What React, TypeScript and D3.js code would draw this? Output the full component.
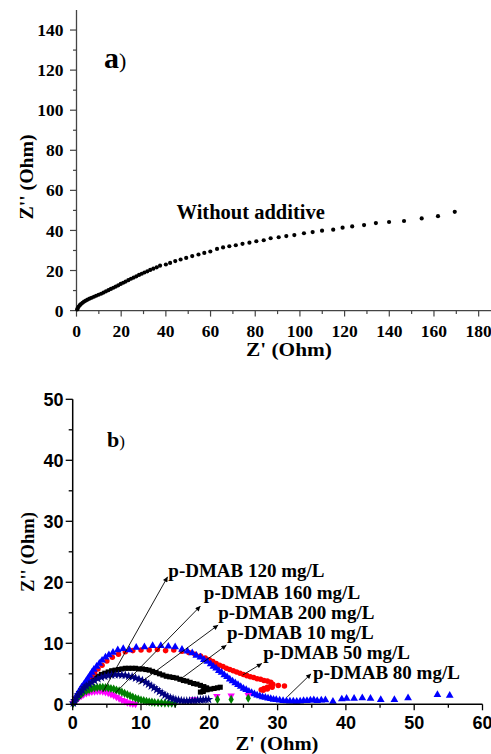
import React from 'react'
import * as d3 from 'd3'

// a) Nyquist plot without additive, [Z', Z''] in Ohm
const blankZ: [number, number][] = [
  [0.3, 0.6], [0.6, 1.3], [1.0, 2.0], [1.5, 2.7], [2.0, 3.3], [2.7, 3.9], [3.4, 4.5], [4.2, 5.0],
  [5.0, 5.5], [5.9, 6.0], [6.8, 6.4], [7.8, 6.9], [8.8, 7.4], [9.9, 7.9], [11.0, 8.4], [12.1, 9.0],
  [13.2, 9.6], [14.3, 10.2], [15.4, 10.8], [16.5, 11.4], [17.6, 12.0], [18.7, 12.6], [19.8, 13.3],
  [20.9, 13.9], [22.0, 14.5], [23.2, 15.2], [24.4, 15.9], [25.6, 16.5], [26.8, 17.1], [28.0, 17.8],
  [29.2, 18.4], [30.4, 19.0], [31.7, 19.6], [33.0, 20.3], [34.4, 20.9], [35.9, 21.6], [37.4, 22.4],
  [40.0, 23.0], [41.9, 23.8], [44.2, 24.7], [46.6, 25.5], [49.1, 26.3], [51.8, 27.2], [54.6, 28.0],
  [57.2, 28.8], [59.9, 29.5], [62.9, 30.8], [65.6, 31.5], [68.4, 32.1], [71.3, 32.6], [74.3, 33.3],
  [77.4, 33.9], [80.5, 34.6], [83.8, 35.1], [86.9, 36.1], [90.5, 36.6], [93.9, 37.2], [97.5, 37.7],
  [101.8, 38.6], [105.7, 39.2], [109.9, 39.9], [114.9, 40.4], [119.1, 41.4], [123.4, 42.0],
  [128.7, 42.7], [134.0, 43.7], [139.9, 44.2], [146.6, 44.7], [154.5, 46.0], [161.8, 47.1], [169.3, 49.3],
]

// b) with p-DMAB
const dmab10: [number, number][] = [
  [0.1, 0.2], [0.3, 0.6], [0.5, 1.0], [0.7, 1.4], [0.9, 1.8], [1.2, 2.2], [1.5, 2.6], [1.8, 3.0],
  [2.1, 3.3], [2.5, 3.7], [2.9, 4.0], [3.3, 4.3], [3.7, 4.6], [4.2, 4.9], [4.7, 5.1], [5.2, 5.3],
  [5.7, 5.5], [6.2, 5.6], [6.7, 5.7], [7.2, 5.8], [7.7, 5.9], [8.2, 5.9], [8.7, 5.9], [9.2, 5.9],
  [9.7, 5.8], [10.2, 5.8], [10.7, 5.7], [11.2, 5.6], [11.7, 5.4], [12.2, 5.2], [12.7, 5.0], [13.2, 4.8],
  [13.7, 4.6], [14.2, 4.5], [14.7, 4.4], [15.2, 4.3], [15.7, 4.1], [16.2, 3.9], [16.7, 3.8], [17.2, 3.6],
  [17.7, 3.4], [18.2, 3.3], [18.7, 3.1], [19.2, 2.9], [19.6, 2.7], [19.5, 2.4], [19.1, 2.1], [18.7, 2.0],
  [19.1, 2.2], [19.7, 2.4], [20.2, 2.5], [20.7, 2.6], [21.2, 2.7], [21.6, 2.8],
]
const dmab50: [number, number][] = [
  [0.1, 0.2], [0.3, 0.6], [0.5, 1.0], [0.8, 1.5], [1.1, 2.0], [1.4, 2.6], [1.7, 3.1], [2.0, 3.6],
  [2.4, 4.1], [2.8, 4.7], [3.2, 5.2], [3.7, 5.8], [4.3, 6.4], [5.0, 7.1], [5.8, 7.7], [6.7, 8.2],
  [7.7, 8.6], [8.8, 8.8], [10.0, 8.9], [11.2, 8.9], [12.4, 9.0], [13.6, 8.8], [14.8, 8.9], [16.0, 8.7],
  [17.0, 8.5], [17.9, 8.2], [18.7, 7.9], [19.4, 7.6], [20.0, 7.3], [20.5, 7.0], [21.0, 6.7], [21.5, 6.4],
  [22.0, 6.2], [22.5, 5.9], [23.0, 5.7], [23.5, 5.5], [24.0, 5.3], [24.5, 5.1], [25.0, 4.9], [25.5, 4.7],
  [26.0, 4.5], [26.5, 4.4], [27.0, 4.2], [27.5, 4.1], [28.0, 3.9], [28.5, 3.8], [29.0, 3.6], [29.3, 3.3],
  [29.0, 3.0], [28.5, 2.8], [28.0, 2.6], [27.6, 2.4], [27.9, 2.3], [28.5, 2.5], [29.2, 2.8], [30.1, 3.1],
  [31.0, 3.0],
]
const dmab80: [number, number][] = [
  [0.1, 0.3], [0.3, 0.8], [0.5, 1.2], [0.7, 1.6], [0.9, 2.0], [1.1, 2.4], [1.3, 2.8], [1.6, 3.2],
  [1.9, 3.7], [2.2, 4.2], [2.5, 4.7], [2.8, 5.2], [3.1, 5.7], [3.5, 6.2], [3.9, 6.7], [4.3, 7.2],
  [4.8, 7.7], [5.3, 8.1], [5.9, 8.5], [6.6, 8.9], [7.4, 9.1], [8.3, 8.9], [9.3, 9.3], [10.5, 9.4],
  [11.7, 9.6], [12.9, 9.6], [14.0, 9.5], [15.0, 9.4], [16.0, 9.0], [16.8, 8.7], [17.5, 8.4], [18.1, 8.0],
  [18.7, 7.7], [19.2, 7.3], [19.7, 7.0], [20.2, 6.6], [20.6, 6.2], [21.0, 5.9], [21.4, 5.5], [21.8, 5.2],
  [22.2, 4.8], [22.6, 4.5], [23.0, 4.1], [23.4, 3.8], [23.8, 3.5], [24.2, 3.2], [24.6, 2.9], [25.0, 2.6],
  [25.4, 2.4], [25.8, 2.1], [26.2, 1.9], [26.6, 1.7], [27.0, 1.5], [27.4, 1.35], [27.8, 1.2], [28.2, 1.1],
  [28.6, 1.0], [29.0, 0.9], [29.4, 0.8], [29.8, 0.75], [30.3, 0.68], [30.8, 0.6], [31.3, 0.55], [31.8, 0.5],
  [32.3, 0.5], [32.8, 0.45], [33.3, 0.5], [33.8, 0.6], [34.3, 0.6], [34.8, 0.65], [35.3, 0.7], [35.8, 0.6],
  [36.4, 0.65], [37.0, 0.7], [38.1, 0.45], [39.4, 0.85], [40.1, 0.95], [41.2, 0.95], [42.4, 1.05],
  [43.6, 0.95], [45.1, 0.75], [47.1, 0.75], [49.1, 1.05], [53.4, 1.55], [55.2, 1.45],
]
const dmab120: [number, number][] = [
  [0.1, 0.2], [0.3, 0.4], [0.5, 0.7], [0.7, 0.9], [1.0, 1.2], [1.3, 1.4], [1.6, 1.6], [2.0, 1.8],
  [2.4, 1.95], [2.8, 2.05], [3.2, 2.1], [3.6, 2.15], [4.0, 2.15], [4.4, 2.1], [4.8, 2.0], [5.2, 1.85],
  [5.6, 1.65], [6.0, 1.45], [6.4, 1.2], [6.8, 0.95], [7.2, 0.7], [7.6, 0.5], [8.0, 0.32], [8.4, 0.2],
  [8.8, 0.1], [9.2, 0.05], [17.7, 0.8], [21.1, 1.35], [23.2, 1.4], [25.7, 1.5],
]
const dmab160: [number, number][] = [
  [0.1, 0.2], [0.3, 0.5], [0.5, 0.8], [0.7, 1.1], [1.0, 1.4], [1.3, 1.7], [1.6, 2.0], [2.0, 2.2],
  [2.4, 2.4], [2.8, 2.6], [3.2, 2.7], [3.6, 2.75], [4.0, 2.8], [4.4, 2.8], [4.8, 2.75], [5.2, 2.7],
  [5.6, 2.6], [6.0, 2.5], [6.4, 2.35], [6.8, 2.2], [7.2, 2.0], [7.6, 1.8], [8.0, 1.6], [8.4, 1.4],
  [8.8, 1.2], [9.2, 1.0], [9.6, 0.85], [10.0, 0.7], [10.4, 0.6], [10.8, 0.5], [11.2, 0.42], [11.6, 0.36],
  [12.0, 0.3], [12.5, 0.26], [13.0, 0.23], [13.5, 0.2], [14.0, 0.2], [14.5, 0.18], [15.0, 0.17],
  [21.2, 0.8], [23.2, 0.8], [25.7, 1.0],
]
const dmab200: [number, number][] = [
  [0.1, 0.2], [0.3, 0.6], [0.5, 1.0], [0.8, 1.5], [1.1, 1.9], [1.4, 2.3], [1.7, 2.7], [2.0, 3.0],
  [2.4, 3.3], [2.8, 3.6], [3.2, 3.9], [3.7, 4.2], [4.2, 4.4], [4.7, 4.6], [5.2, 4.7], [5.7, 4.8],
  [6.2, 4.85], [6.7, 4.85], [7.2, 4.8], [7.7, 4.75], [8.2, 4.6], [8.7, 4.5], [9.2, 4.3], [9.7, 4.1],
  [10.2, 3.9], [10.7, 3.6], [11.1, 3.3], [11.5, 3.0], [11.9, 2.7], [12.3, 2.4], [12.7, 2.1], [13.1, 1.8],
  [13.5, 1.5], [13.9, 1.25], [14.3, 1.05], [14.7, 0.9], [15.1, 0.75], [15.5, 0.65], [15.9, 0.6],
  [16.3, 0.55], [16.7, 0.55], [17.1, 0.55], [17.5, 0.6], [17.9, 0.6], [18.3, 0.65], [18.7, 0.7],
  [19.1, 0.75], [19.5, 0.8], [19.9, 0.8],
]

// label text, arrow tail (on data), arrow head and text start, all in Z' / Z'' units
const labels = [
  { text: 'p-DMAB 120 mg/L', tail: [4.4, 2.0], head: [13.9, 20.9], at: [14.0, 20.9] },
  { text: 'p-DMAB 160 mg/L', tail: [6.2, 1.8], head: [18.7, 16.1], at: [19.2, 17.2] },
  { text: 'p-DMAB 200 mg/L', tail: [9.6, 3.3], head: [21.3, 13.0], at: [21.3, 14.0] },
  { text: 'p-DMAB 10 mg/L', tail: [15.5, 3.9], head: [22.5, 9.7], at: [22.6, 10.7] },
  { text: 'p-DMAB 50 mg/L', tail: [24.9, 4.8], head: [27.7, 6.7], at: [27.9, 7.4] },
  { text: 'p-DMAB 80 mg/L', tail: [31.4, 1.2], head: [34.9, 5.0], at: [35.2, 4.1] },
]

const ticksAX = [0, 20, 40, 60, 80, 100, 120, 140, 160, 180]
const ticksAY = [0, 20, 40, 60, 80, 100, 120, 140]
const ticksBX = [0, 10, 20, 30, 40, 50, 60]
const ticksBY = [0, 10, 20, 30, 40, 50]

const serif = '"Liberation Serif", "Times New Roman", serif'
const sans = '"Liberation Sans", Arial, sans-serif'

const series = [
  { data: dmab10, color: '#000000', type: d3.symbolSquare, size: 26, rot: 0 },
  { data: dmab50, color: '#ff0000', type: d3.symbolCircle, size: 24, rot: 0 },
  { data: dmab80, color: '#0000ff', type: d3.symbolTriangle, size: 26, rot: 0 },
  { data: dmab120, color: '#ff00ff', type: d3.symbolTriangle, size: 24, rot: 180 },
  { data: dmab160, color: '#008000', type: d3.symbolDiamond, size: 24, rot: 0 },
  { data: dmab200, color: '#000080', type: d3.symbolStar, size: 28, rot: 0 },
]

export default function App() {
  const xA = d3.scaleLinear().domain([0, 190]).range([76.5, 501])
  const yA = d3.scaleLinear().domain([0, 150]).range([310.6, 10])
  const xB = d3.scaleLinear().domain([0, 60]).range([72.7, 482.5])
  const yB = d3.scaleLinear().domain([0, 50]).range([704.3, 399.3])

  const axA = '#444'
  return (
    <svg width={491} height={754} style={{ position: 'absolute', left: 0, top: 0, background: '#fff' }}>
      <defs>
        <marker id="arr" viewBox="0 0 10 10" refX="10" refY="5" markerWidth="7" markerHeight="5"
          markerUnits="userSpaceOnUse" orient="auto">
          <path d="M0,0 L10,5 L0,10 z" fill="#000" />
        </marker>
      </defs>

      {/* ---- a) ---- */}
      <g>
        <line x1={xA(0)} x2={xA(190)} y1={yA(0)} y2={yA(0)} stroke={axA} strokeWidth={1.3} />
        <line x1={xA(0)} x2={xA(0)} y1={yA(0)} y2={yA(150)} stroke={axA} strokeWidth={1.3} />
        {ticksAX.map(t => (
          <g key={'ax' + t}>
            <line x1={xA(t)} x2={xA(t)} y1={yA(0)} y2={yA(0) + 6} stroke={axA} strokeWidth={1.2} />
            <text x={xA(t)} y={yA(0) + 20} dy="0.35em" textAnchor="middle" fontFamily={serif}
              fontWeight="bold" fontSize={17.5}>{t}</text>
          </g>
        ))}
        {d3.range(10, 190, 20).map(t => (
          <line key={'axm' + t} x1={xA(t)} x2={xA(t)} y1={yA(0)} y2={yA(0) + 3.5} stroke={axA} strokeWidth={1.2} />
        ))}
        {ticksAY.map(t => (
          <g key={'ay' + t}>
            <line x1={xA(0) - 6.5} x2={xA(0)} y1={yA(t)} y2={yA(t)} stroke={axA} strokeWidth={1.2} />
            <text x={63.5} y={yA(t)} dy="0.35em" textAnchor="end" fontFamily={serif}
              fontWeight="bold" fontSize={17.5}>{t}</text>
          </g>
        ))}
        {d3.range(10, 150, 20).map(t => (
          <line key={'aym' + t} x1={xA(0) - 3.5} x2={xA(0)} y1={yA(t)} y2={yA(t)} stroke={axA} strokeWidth={1.2} />
        ))}
        <text x={289} y={356} textAnchor="middle" fontFamily={serif} fontWeight="bold" fontSize={18}
          textLength={86} lengthAdjust="spacingAndGlyphs">Z' (Ohm)</text>
        <text transform="translate(33,177) rotate(-90)" textAnchor="middle" fontFamily={serif}
          fontWeight="bold" fontSize={18} textLength={85} lengthAdjust="spacingAndGlyphs">Z'' (Ohm)</text>
        <text x={104} y={68} fontFamily={serif}>
          <tspan fontWeight="bold" fontSize={30}>a</tspan>
          <tspan fontSize={22}>)</tspan>
        </text>
        <text x={176.5} y={219} fontFamily={serif} fontWeight="bold" fontSize={20.5}>Without additive</text>
        {blankZ.map((d, i) => (
          <circle key={'b' + i} cx={xA(d[0])} cy={yA(d[1])} r={2.1} fill="#000" />
        ))}
      </g>

      {/* ---- b) ---- */}
      <g>
        {series.map((s, si) => {
          const p = d3.symbol().type(s.type).size(s.size)() as string
          return (
            <g key={'s' + si}>
              {s.data.map((d, i) => (
                <path key={i} d={p} fill={s.color}
                  transform={`translate(${xB(d[0])},${yB(d[1])}) rotate(${s.rot})`} />
              ))}
            </g>
          )
        })}
        <line x1={xB(0)} x2={xB(60)} y1={yB(0)} y2={yB(0)} stroke="#000" strokeWidth={1.5} />
        <line x1={xB(0)} x2={xB(0)} y1={yB(0)} y2={yB(50)} stroke="#000" strokeWidth={1.5} />
        {ticksBX.map(t => (
          <g key={'bx' + t}>
            <line x1={xB(t)} x2={xB(t)} y1={yB(0)} y2={yB(0) + 6} stroke="#000" strokeWidth={1.3} />
            <text x={xB(t)} y={723} dy="0.35em" textAnchor="middle" fontFamily={sans}
              fontWeight="bold" fontSize={18}>{t}</text>
          </g>
        ))}
        {d3.range(5, 60, 10).map(t => (
          <line key={'bxm' + t} x1={xB(t)} x2={xB(t)} y1={yB(0)} y2={yB(0) + 3.5} stroke="#000" strokeWidth={1.3} />
        ))}
        {ticksBY.map(t => (
          <g key={'by' + t}>
            <line x1={xB(0) - 7} x2={xB(0)} y1={yB(t)} y2={yB(t)} stroke="#000" strokeWidth={1.3} />
            <text x={63.5} y={yB(t)} dy="0.35em" textAnchor="end" fontFamily={sans}
              fontWeight="bold" fontSize={18}>{t}</text>
          </g>
        ))}
        {d3.range(5, 50, 10).map(t => (
          <line key={'bym' + t} x1={xB(0) - 4} x2={xB(0)} y1={yB(t)} y2={yB(t)} stroke="#000" strokeWidth={1.3} />
        ))}
        <text x={277} y={750} textAnchor="middle" fontFamily={serif} fontWeight="bold" fontSize={18}
          textLength={83} lengthAdjust="spacingAndGlyphs">Z' (Ohm)</text>
        <text transform="translate(34,552) rotate(-90)" textAnchor="middle" fontFamily={serif}
          fontWeight="bold" fontSize={18} textLength={80} lengthAdjust="spacingAndGlyphs">Z'' (Ohm)</text>
        <text x={107} y={447} fontFamily={serif}>
          <tspan fontWeight="bold" fontSize={22}>b</tspan>
          <tspan fontSize={17}>)</tspan>
        </text>
        {labels.map((l, i) => (
          <g key={'l' + i}>
            <line x1={xB(l.tail[0])} y1={yB(l.tail[1])} x2={xB(l.head[0])} y2={yB(l.head[1])}
              stroke="#000" strokeWidth={0.9} markerEnd="url(#arr)" />
            <text x={xB(l.at[0])} y={yB(l.at[1])} fontFamily={serif} fontWeight="bold" fontSize={19}>{l.text}</text>
          </g>
        ))}
      </g>
    </svg>
  )
}
